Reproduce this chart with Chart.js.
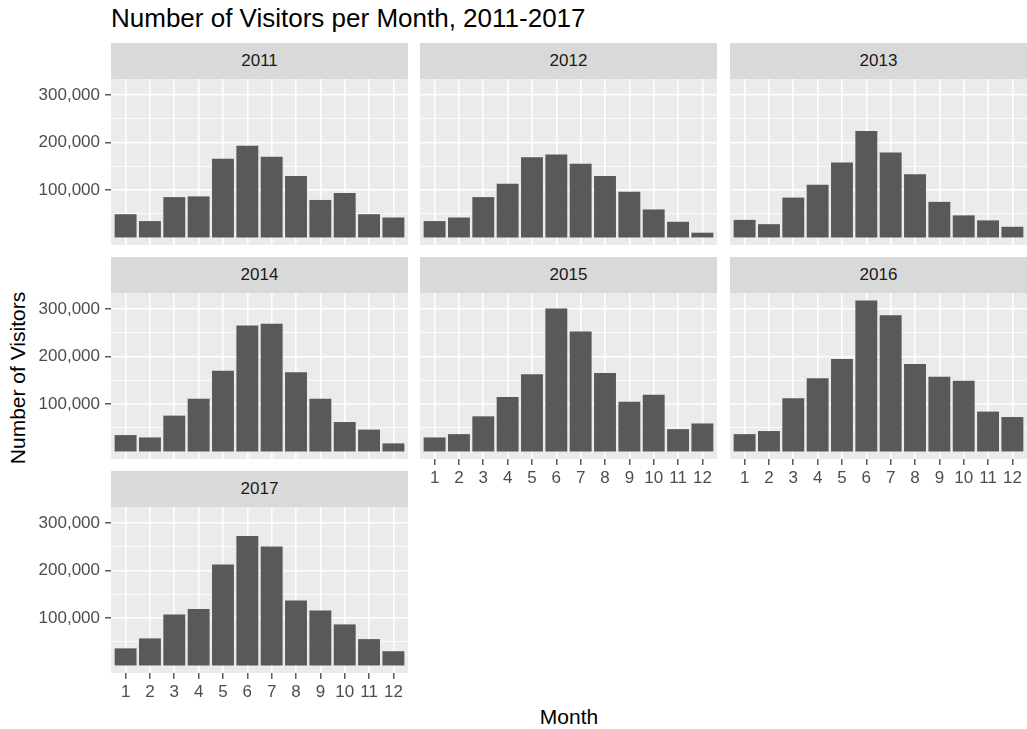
<!DOCTYPE html>
<html>
<head>
<meta charset="utf-8">
<script src="https://cdn.jsdelivr.net/npm/chart.js@4.4.0/dist/chart.umd.min.js"></script>
<style>
  body { margin: 0; background: #fff; font-family: 'Liberation Sans', Arial, sans-serif; }
  #wrap { position: relative; width: 1027px; height: 729px; overflow: hidden; }
  .strip { position: absolute; background: #D9D9D9; color: #1A1A1A; font-size: 17px;
           display: flex; align-items: center; justify-content: center; }
  .panel { position: absolute; }
  #title { position: absolute; left: 111px; top: 5px; font-size: 26px; line-height: 26px; color: #000; white-space: nowrap; }
  #xtitle { position: absolute; left: 111px; width: 916px; top: 705px; text-align: center; font-size: 21px; line-height: 24px; color: #000; }
  #ytitle { position: absolute; left: 18px; top: 378px; font-size: 21px; line-height: 24px; color: #000; white-space: nowrap;
            transform: translate(-50%, -50%) rotate(-90deg); }
</style>
</head>
<body>
<div id="wrap">
  <div id="title">Number of Visitors per Month, 2011-2017</div>
  <div id="ytitle">Number of Visitors</div>
  <div id="xtitle">Month</div>
</div>
<script>
// monthly visitor counts
const months = [1, 2, 3, 4, 5, 6, 7, 8, 9, 10, 11, 12];
const years = ['2011', '2012', '2013', '2014', '2015', '2016', '2017'];
const v2011 = [49000, 34500, 85000, 86500, 166000, 193500, 170000, 129500, 79000, 93500, 49000, 42000];
const v2012 = [34500, 42000, 85000, 113000, 169000, 175000, 155500, 129500, 96500, 59000, 33000, 10000];
const v2013 = [37000, 28000, 84000, 111000, 158000, 224500, 179000, 133000, 75000, 46500, 36000, 22500];
const v2014 = [34500, 29500, 75500, 111000, 170000, 265500, 269000, 167000, 111000, 62000, 46000, 17000];
const v2015 = [29500, 36500, 74000, 115000, 162500, 301000, 253000, 165500, 105000, 119500, 47000, 59000];
const v2016 = [36500, 43000, 112000, 154000, 195000, 318000, 287000, 184500, 157500, 149000, 84000, 72500];
const v2017 = [36000, 57000, 107500, 119000, 212500, 273000, 250500, 137000, 116000, 86500, 55500, 30000];
const yTicks = [100000, 200000, 300000];
const yMinorTicks = [50000, 150000, 250000];

const series = [v2011, v2012, v2013, v2014, v2015, v2016, v2017];

// facet layout
const colLeft = [111, 420, 730];
const rowTop = [79, 293, 507];
const panelW = 297, panelH = 166, stripH = 36;
const yAxisW = 111, xAxisH = 34;
const fontFamily = "'Liberation Sans', Arial, sans-serif";

// shared y range with ggplot-like 5% expansion
const allVals = [].concat(...series);
const dataMax = Math.max(...allVals);
const yMax = dataMax * 1.05;
const yMin = -dataMax * 0.05;

const panelBg = {
  id: 'panelBg',
  beforeDraw(chart) {
    const a = chart.chartArea;
    const ctx = chart.ctx;
    ctx.save();
    ctx.fillStyle = '#EBEBEB';
    ctx.fillRect(a.left, a.top, a.right - a.left, a.bottom - a.top);
    ctx.restore();
  }
};

const isMajor = v => yTicks.includes(v);

function makePanel(idx) {
  const row = Math.floor(idx / 3), col = idx % 3;
  const showY = col === 0;
  const showX = idx + 3 >= years.length;
  const wrap = document.getElementById('wrap');

  const strip = document.createElement('div');
  strip.className = 'strip';
  strip.style.left = colLeft[col] + 'px';
  strip.style.top = (rowTop[row] - stripH) + 'px';
  strip.style.width = panelW + 'px';
  strip.style.height = stripH + 'px';
  strip.textContent = years[idx];
  wrap.appendChild(strip);

  const leftW = showY ? yAxisW : 0;
  const w = leftW + panelW;
  const h = panelH + (showX ? xAxisH : 0);
  const box = document.createElement('div');
  box.className = 'panel';
  box.style.left = (colLeft[col] - leftW) + 'px';
  box.style.top = rowTop[row] + 'px';
  box.style.width = w + 'px';
  box.style.height = h + 'px';
  const canvas = document.createElement('canvas');
  canvas.width = w;
  canvas.height = h;
  box.appendChild(canvas);
  wrap.appendChild(box);

  new Chart(canvas.getContext('2d'), {
    type: 'bar',
    data: {
      datasets: [{
        data: months.map((m, i) => ({ x: m, y: series[idx][i] })),
        backgroundColor: '#595959',
        borderWidth: 0,
        barPercentage: 0.9,
        categoryPercentage: 1
      }]
    },
    options: {
      responsive: false,
      animation: false,
      layout: { padding: 0 },
      plugins: { legend: { display: false }, tooltip: { enabled: false } },
      scales: {
        x: {
          type: 'linear',
          min: 0.4,
          max: 12.6,
          offset: false,
          afterBuildTicks: s => { s.ticks = months.map(m => ({ value: m })); },
          ticks: {
            display: showX,
            autoSkip: false,
            maxRotation: 0,
            padding: 3,
            color: '#4D4D4D',
            font: { size: 17, family: fontFamily },
            callback: v => String(v)
          },
          grid: { color: '#FFFFFF', lineWidth: 1.6, offset: false, drawTicks: showX,
                  tickLength: 6, tickColor: '#333333', tickWidth: 1.2 },
          border: { display: false },
          afterFit: s => {
            s.height = showX ? xAxisH : 0;
            s.paddingLeft = 0; s.paddingRight = 0; s.paddingTop = 0; s.paddingBottom = 0;
          }
        },
        y: {
          type: 'linear',
          min: yMin,
          max: yMax,
          afterBuildTicks: s => {
            s.ticks = yMinorTicks.concat(yTicks).sort((a, b) => a - b).map(v => ({ value: v }));
          },
          ticks: {
            display: showY,
            autoSkip: false,
            padding: 5,
            color: '#4D4D4D',
            font: { size: 17, family: fontFamily },
            callback: v => isMajor(v) ? v.toLocaleString('en-US') : ''
          },
          grid: {
            color: '#FFFFFF',
            lineWidth: c => (c.tick && isMajor(c.tick.value)) ? 1.6 : 0.8,
            drawTicks: showY,
            tickLength: 6,
            tickWidth: 1.2,
            tickColor: c => (c.tick && isMajor(c.tick.value)) ? '#333333' : 'rgba(0,0,0,0)'
          },
          border: { display: false },
          afterFit: s => {
            s.width = showY ? yAxisW : 0;
            s.paddingLeft = 0; s.paddingRight = 0; s.paddingTop = 0; s.paddingBottom = 0;
          }
        }
      }
    },
    plugins: [panelBg]
  });
}

years.forEach((y, i) => makePanel(i));
</script>
</body>
</html>
